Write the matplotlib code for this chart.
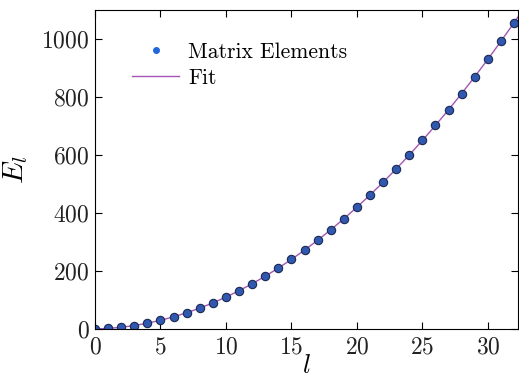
import matplotlib
matplotlib.use("Agg")
import matplotlib.pyplot as plt
from matplotlib.lines import Line2D

plt.rcParams["font.family"] = "serif"
plt.rcParams["font.serif"] = ["cmr10"]
plt.rcParams["mathtext.fontset"] = "cm"
plt.rcParams["axes.formatter.use_mathtext"] = True

l_values = list(range(0, 33))
E_values = [0, 2, 6, 12, 20, 30, 42, 56, 72, 90, 110, 132, 156, 182, 210, 240,
            272, 306, 342, 380, 420, 462, 506, 552, 600, 650, 702, 756, 812,
            870, 930, 992, 1056]
fit_l = list(range(0, 34))
fit_E = [0, 2, 6, 12, 20, 30, 42, 56, 72, 90, 110, 132, 156, 182, 210, 240,
         272, 306, 342, 380, 420, 462, 506, 552, 600, 650, 702, 756, 812,
         870, 930, 992, 1056, 1122]

fig = plt.figure(figsize=(5.19, 3.78), dpi=100)
ax = fig.add_axes([0.183, 0.1296, 0.815, 0.844])

ax.plot(fit_l, fit_E, color="#a455b5", lw=1.0, zorder=1)
ax.plot(l_values, E_values, "o", ms=6, mfc="#3058b0", mec="#1a2a50", mew=0.8, zorder=2)

ax.set_xlim(0, 32.3)
ax.set_ylim(0, 1100)
ax.set_xticks([0, 5, 10, 15, 20, 25, 30])
ax.set_yticks([0, 200, 400, 600, 800, 1000])
ax.tick_params(direction="in", top=True, right=True, labelsize=17, length=5,
               width=0.8, labelcolor="#222222")
ax.tick_params(axis="y", pad=4)
ax.tick_params(axis="x", pad=5)

ax.set_xlabel(r"$l$", fontsize=19, labelpad=-3)
ax.set_ylabel(r"$E_l$", fontsize=21, labelpad=8)

handles = [Line2D([], [], ls="", marker="o", ms=4, color="#2266dd"),
           Line2D([], [], color="#a455b5", lw=1.0)]
ax.legend(handles, ["Matrix Elements", "Fit"], loc="upper left", frameon=False,
          fontsize=15.5, bbox_to_anchor=(0.067, 0.925), handlelength=2.2,
          borderaxespad=0, labelspacing=0.3, handletextpad=0.42)

fig.savefig("out.png", dpi=100)
